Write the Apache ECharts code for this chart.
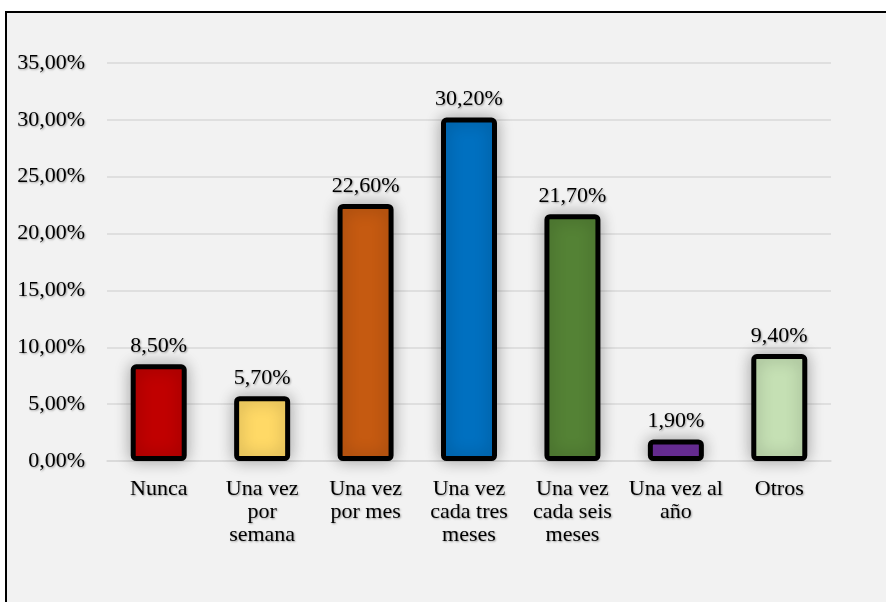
<!DOCTYPE html>
<html>
<head>
<meta charset="utf-8">
<script src="https://cdn.jsdelivr.net/npm/echarts@6/dist/echarts.min.js"></script>
<style>
html,body{margin:0;padding:0;background:#ffffff;}
#chart{width:886px;height:602px;}
</style>
</head>
<body>
<div id="chart"></div>
<script>
const categories = ["Nunca", "Una vez\npor\nsemana", "Una vez\npor mes", "Una vez\ncada tres\nmeses", "Una vez\ncada seis\nmeses", "Una vez al\naño", "Otros"];
const values = [8.5, 5.7, 22.6, 30.2, 21.7, 1.9, 9.4];
const barColors = ["#C00000", "#FFD966", "#C55A11", "#0070C0", "#548235", "#7030A0", "#C5E0B4"];
const yTicks = { min: 0, max: 35, interval: 5 };

const fmt = v => Number(v).toFixed(2).replace('.', ',') + '%';
const serif = '"Liberation Serif", "Times New Roman", serif';
const textShadow = { textShadowColor: 'rgba(0,0,0,0.35)', textShadowBlur: 2, textShadowOffsetX: 1, textShadowOffsetY: 1 };

const chart = echarts.init(document.getElementById('chart'));
chart.setOption({
  animation: false,
  backgroundColor: '#ffffff',
  graphic: [{
    type: 'rect', z: -10, silent: true,
    shape: { x: 6, y: 12, width: 900, height: 700 },
    style: { fill: '#f2f2f2', stroke: '#000000', lineWidth: 2 }
  }],
  grid: { left: 107, right: 55, top: 63, bottom: 141, containLabel: false },
  xAxis: {
    type: 'category',
    data: categories,
    axisLine: { show: true, lineStyle: { color: '#d9d9d9', width: 1.5 } },
    axisTick: { show: false },
    axisLabel: {
      interval: 0, margin: 17, color: '#000000', fontFamily: serif, fontSize: 22, lineHeight: 23,
      ...textShadow
    }
  },
  yAxis: {
    type: 'value',
    min: yTicks.min, max: yTicks.max, interval: yTicks.interval,
    axisLine: { show: false },
    axisTick: { show: false },
    splitLine: { lineStyle: { color: '#d9d9d9', width: 1.5 } },
    axisLabel: {
      formatter: fmt, margin: 22, color: '#000000', fontFamily: serif, fontSize: 22,
      ...textShadow
    }
  },
  series: [{
    type: 'bar',
    barWidth: 56,
    data: values.map((v, i) => ({
      value: v,
      itemStyle: { color: barColors[i] }
    })),
    itemStyle: {
      borderColor: '#000000', borderWidth: 5, borderRadius: 3,
      shadowColor: 'rgba(0,0,0,0.3)', shadowBlur: 16, shadowOffsetX: 0, shadowOffsetY: 0
    },
    label: {
      show: true, position: 'top', distance: 7,
      formatter: p => fmt(p.value),
      color: '#000000', fontFamily: serif, fontSize: 22,
      ...textShadow
    }
  }]
});
</script>
</body>
</html>
